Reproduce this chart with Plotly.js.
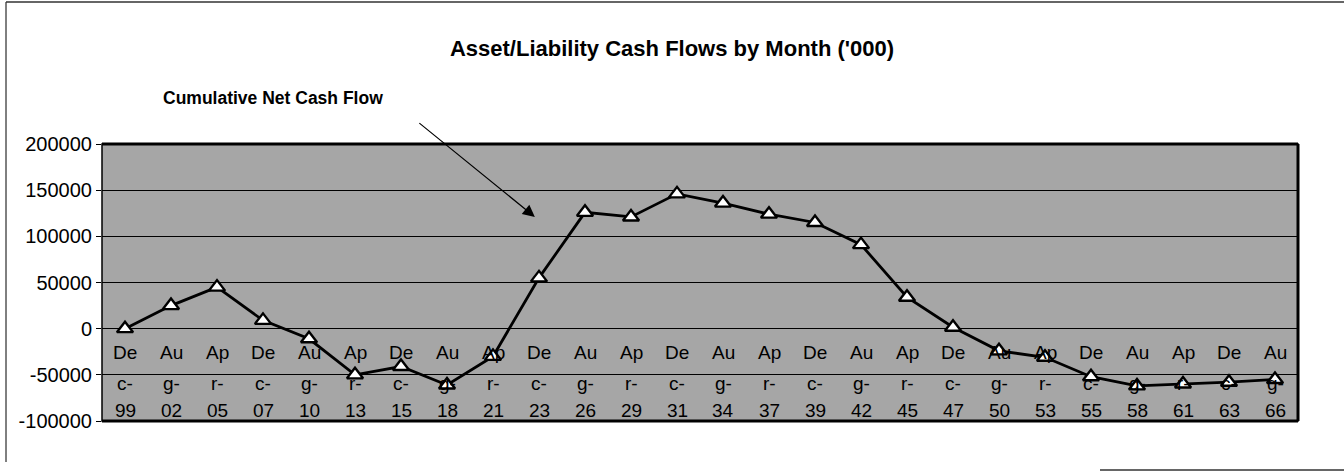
<!DOCTYPE html>
<html>
<head>
<meta charset="utf-8">
<script src="https://cdn.plot.ly/plotly-3.0.1.min.js"></script>
<style>html,body{margin:0;padding:0;background:#fff;}#chart{width:1344px;height:472px;}</style>
</head>
<body>
<div id="chart"></div>
<script>
var categories = ["Dec-99","Aug-02","Apr-05","Dec-07","Aug-10","Apr-13","Dec-15","Aug-18","Apr-21","Dec-23","Aug-26","Apr-29","Dec-31","Aug-34","Apr-37","Dec-39","Aug-42","Apr-45","Dec-47","Aug-50","Apr-53","Dec-55","Aug-58","Apr-61","Dec-63","Aug-66"];
var cumulativeNet = [0,25000,45000,9000,-11000,-50000,-41000,-61000,-30000,55000,126000,121000,146000,136000,124000,115000,91000,34000,1500,-24000,-31000,-52000,-62000,-60000,-58000,-55000];
var yTicks = [-100000,-50000,0,50000,100000,150000,200000];
var seriesLabel = "Cumulative Net Cash Flow";
var chartTitle = "Asset/Liability Cash Flows by Month ('000)";

var FONT = "Liberation Sans, Arial, sans-serif";
var L = 102, R = 46, T = 144, B = 51, W = 1344, H = 472;
var pw = W - L - R, ph = H - T - B;
function px(p){ return (p - L) / pw; }
function py(q){ return (H - B - q) / ph; }

var trace = {
  x: categories, y: cumulativeNet, type: 'scatter', mode: 'lines+markers',
  line: {color: '#000', width: 2.8},
  marker: {symbol: 'triangle-up', size: 14, color: '#fff', line: {color: '#000', width: 2.4}},
  hoverinfo: 'skip', showlegend: false
};

var annotations = [];
var rows = [
  function(c){ return c.slice(0,2); },
  function(c){ return c.slice(2,4); },
  function(c){ return c.slice(4); }
];
var rowY = [352, 383, 410];
categories.forEach(function(c, i){
  rows.forEach(function(fn, r){
    annotations.push({x: i, xref: 'x', y: py(rowY[r]), yref: 'paper', text: fn(c),
      showarrow: false, xanchor: 'center', yanchor: 'middle',
      font: {family: FONT, size: 19, color: '#000'}});
  });
});
annotations.push({x: px(273), y: py(98), xref: 'paper', yref: 'paper', text: '<b>' + seriesLabel + '</b>',
  showarrow: false, xanchor: 'center', yanchor: 'middle', font: {family: FONT, size: 17.5, color: '#000'}});
annotations.push({x: 8.91, xref: 'x', y: 121000, yref: 'y', text: '', showarrow: true,
  ax: -117, ay: -95, axref: 'pixel', ayref: 'pixel', arrowhead: 2, arrowsize: 2, arrowwidth: 1.2, arrowcolor: '#000'});

var shapes = [
  {type: 'line', xref: 'paper', yref: 'paper', x0: px(6), x1: px(6), y0: py(2), y1: py(462), line: {color: '#000', width: 1}},
  {type: 'line', xref: 'paper', yref: 'paper', x0: px(6), x1: px(1344), y0: py(2), y1: py(2), line: {color: '#333', width: 1.5}},
  {type: 'line', xref: 'paper', yref: 'paper', x0: px(1100), x1: px(1344), y0: py(470), y1: py(470), line: {color: '#333', width: 1.5}},
  {type: 'rect', xref: 'paper', yref: 'paper', x0: 0, x1: 1, y0: 0, y1: 1, line: {color: '#000', width: 1.5}},
  {type: 'line', xref: 'paper', yref: 'paper', x0: 0, x1: 1, y0: 1, y1: 1, line: {color: '#000', width: 3}},
  {type: 'line', xref: 'paper', yref: 'paper', x0: 1, x1: 1, y0: 0, y1: 1, line: {color: '#000', width: 3}},
  {type: 'line', xref: 'paper', yref: 'paper', x0: 0, x1: 1, y0: 0, y1: 0, line: {color: '#000', width: 3}}
];

var layout = {
  width: W, height: H,
  margin: {l: L, r: R, t: T, b: B, pad: 0},
  paper_bgcolor: '#fff', plot_bgcolor: '#a6a6a6',
  title: {text: '<b>' + chartTitle + '</b>', x: 0.5, xanchor: 'center', y: 1 - 48/H, yref: 'container', yanchor: 'middle',
    font: {family: FONT, size: 22, color: '#000'}},
  xaxis: {type: 'category', range: [-0.5, categories.length - 0.5], showticklabels: false, ticks: '',
    showgrid: false, zeroline: false, showline: false, fixedrange: true},
  yaxis: {range: [-100000, 200000], tickvals: yTicks, ticktext: yTicks.map(String), ticks: 'outside', ticklen: 5,
    tickcolor: '#000', showgrid: true, gridcolor: '#000', gridwidth: 1, zeroline: true, zerolinecolor: '#000', zerolinewidth: 1,
    showline: false, tickfont: {family: FONT, size: 20, color: '#000'}, fixedrange: true},
  annotations: annotations,
  shapes: shapes
};
Plotly.newPlot('chart', [trace], layout, {displayModeBar: false, staticPlot: true});
</script>
</body>
</html>
